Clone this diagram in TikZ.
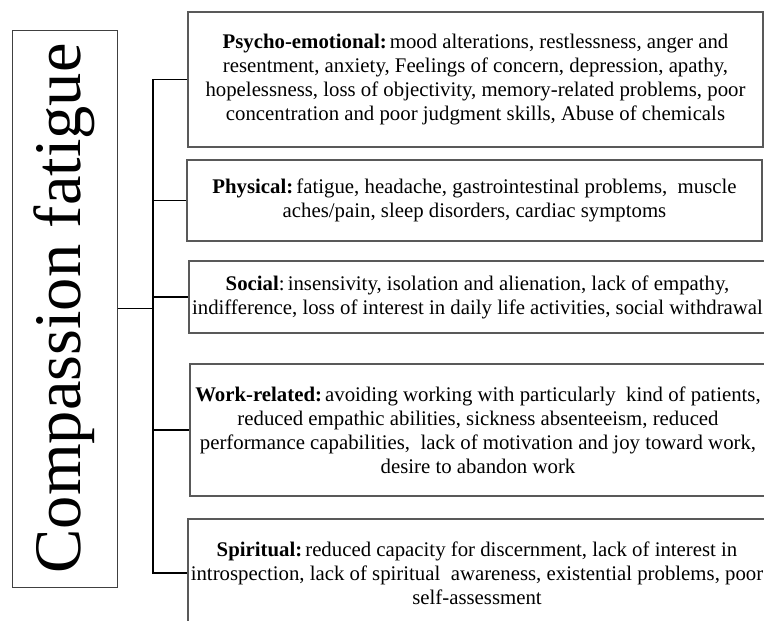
\documentclass[tikz,border=0pt]{standalone}
\usepackage{fontspec}
\setmainfont{Liberation Serif}
\begin{document}
\begin{tikzpicture}[x=1pt,y=-1pt,
  catbox/.style={draw=black!65, line width=1.3pt, inner sep=0pt, align=center,
    font=\fontsize{20.8}{24}\selectfont},
  titlebox/.style={draw=black!75, line width=1pt, rotate=90, inner sep=0pt,
    minimum width=557pt, minimum height=105pt, font=\fontsize{66.5}{66.5}\selectfont},
  link/.style={draw=black, line width=1.1pt}]
\useasboundingbox (0,0) rectangle (764,621);
\clip (0,0) rectangle (764,621);

\node[titlebox] (cf) at (64.5,308.5) {Compassion fatigue};

\node[catbox, minimum width=575pt, minimum height=135pt] (b1) at (475.5,79.5)
 {\textbf{Psycho-emotional:}\hspace{0.15em}mood alterations, restlessness, anger and\\
  resentment, anxiety, Feelings of concern, depression, apathy,\\
  hopelessness, loss of objectivity, memory-related problems, poor\\
  concentration and poor judgment skills, Abuse of chemicals};

\node[catbox, minimum width=575pt, minimum height=81pt] (b2) at (474.5,200.5)
 {\textbf{Physical:}\hspace{0.15em}fatigue, headache, gastrointestinal problems,\ \ muscle\\
  aches/pain, sleep disorders, cardiac symptoms};

\node[catbox, minimum width=577pt, minimum height=72pt] (b3) at (477.5,297)
 {\textbf{Social}:\hspace{0.15em}insensivity, isolation and alienation, lack of empathy,\\
  indifference, loss of interest in daily life activities, social withdrawal};

\node[catbox, minimum width=576pt, minimum height=132pt] (b4) at (478,430)
 {\textbf{Work-related:}\hspace{0.15em}avoiding working with particularly\ \ kind of patients,\\
  reduced empathic abilities, sickness absenteeism, reduced\\
  performance capabilities,\ \ lack of motivation and joy toward work,\\
  desire to abandon work};

\node[catbox, minimum width=578pt, minimum height=108pt] (b5) at (477,573)
 {\textbf{Spiritual:}\hspace{0.15em}reduced capacity for discernment, lack of interest in\\
  introspection, lack of spiritual\ \ awareness, existential problems, poor\\
  self-assessment};

\coordinate (j) at (153,308.5);
\draw[link] (cf.south) -- (j);
\draw[link] (j) |- (b1.west);
\draw[link] (j) |- (b2.west);
\draw[link] (j) |- (b3.west);
\draw[link] (j) |- (b4.west);
\draw[link] (j) |- (b5.west);
\end{tikzpicture}
\end{document}
